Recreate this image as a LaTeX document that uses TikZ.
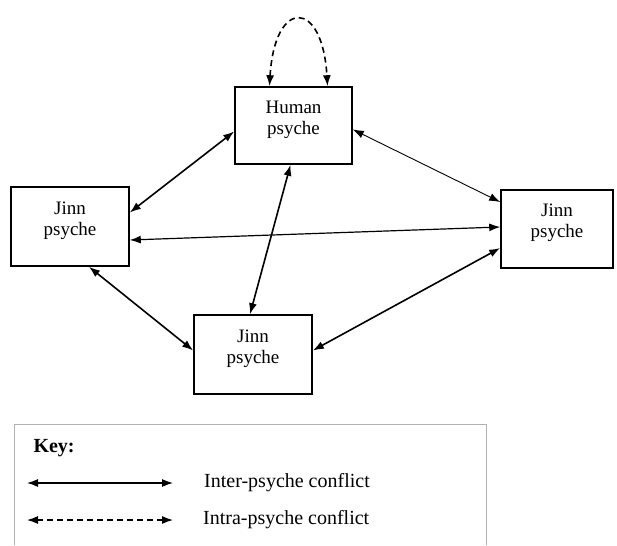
\documentclass[tikz,border=0pt]{standalone}
\usepackage{fontspec}
\setmainfont{Liberation Serif}
\usetikzlibrary{arrows.meta}
\begin{document}
\begin{tikzpicture}[x=1pt,y=-1pt,
  psyche/.style={draw,line width=1.6pt,align=center,inner sep=0pt,text depth=16pt,
    font=\fontsize{19}{21}\selectfont},
  conflict/.style={line width=1.6pt,{Latex[length=11pt,width=8pt]}-{Latex[length=11pt,width=8pt]}},
  intra/.style={conflict,dash pattern=on 6pt off 4pt}]
\useasboundingbox (0,0) rectangle (617,545);
\node [psyche,minimum width=117pt,minimum height=77pt] (human) at (293.5,125.5) {Human\\psyche};
\node [psyche,minimum width=118pt,minimum height=79pt] (jinnl) at (70,226.5) {Jinn\\psyche};
\node [psyche,minimum width=112pt,minimum height=78pt] (jinnr) at (557,229) {Jinn\\psyche};
\node [psyche,minimum width=118pt,minimum height=79pt] (jinnb) at (253,354.5) {Jinn\\psyche};
\draw [intra]([xshift=-24pt]human.north) .. controls +(5,-88) and +(-5,-88) .. ([xshift=34pt]human.north);
\draw [conflict]([yshift=-6pt]human.west) -- ([yshift=14pt]jinnl.east);
\draw [conflict,line width=0.9pt]([yshift=-4pt]human.east) -- ([yshift=27pt]jinnr.west);
\draw [conflict,line width=1.2pt]([yshift=-13.5pt]jinnl.east) -- ([yshift=2pt]jinnr.west);
\draw [conflict]([xshift=-3pt]human.south) -- ([xshift=-3pt]jinnb.north);
\draw [conflict]([xshift=19pt]jinnl.south) -- ([yshift=4pt]jinnb.west);
\draw [conflict]([yshift=-19pt]jinnr.west) -- ([yshift=4pt]jinnb.east);
% key
\draw [gray!60,line width=1pt](14,545) -- (14,424) -- (486,424) -- (486,545);
\node [anchor=west,font=\fontsize{20}{22}\selectfont\bfseries] (key) at (30,448) {Key:};
\coordinate (intera) at (27,483);
\coordinate (interb) at (173,483);
\coordinate (intraa) at (27,520);
\coordinate (intrab) at (173,520);
\draw [conflict,line width=1.2pt](intera) -- (interb);
\draw [intra,line width=1.2pt](intraa) -- (intrab);
\node [anchor=west,inner sep=0pt,font=\fontsize{20}{22}\selectfont] (inter) at (204,483) {Inter-psyche conflict};
\node [anchor=west,inner sep=0pt,font=\fontsize{20}{22}\selectfont] (intrakey) at (203,520) {Intra-psyche conflict};
\end{tikzpicture}
\end{document}
